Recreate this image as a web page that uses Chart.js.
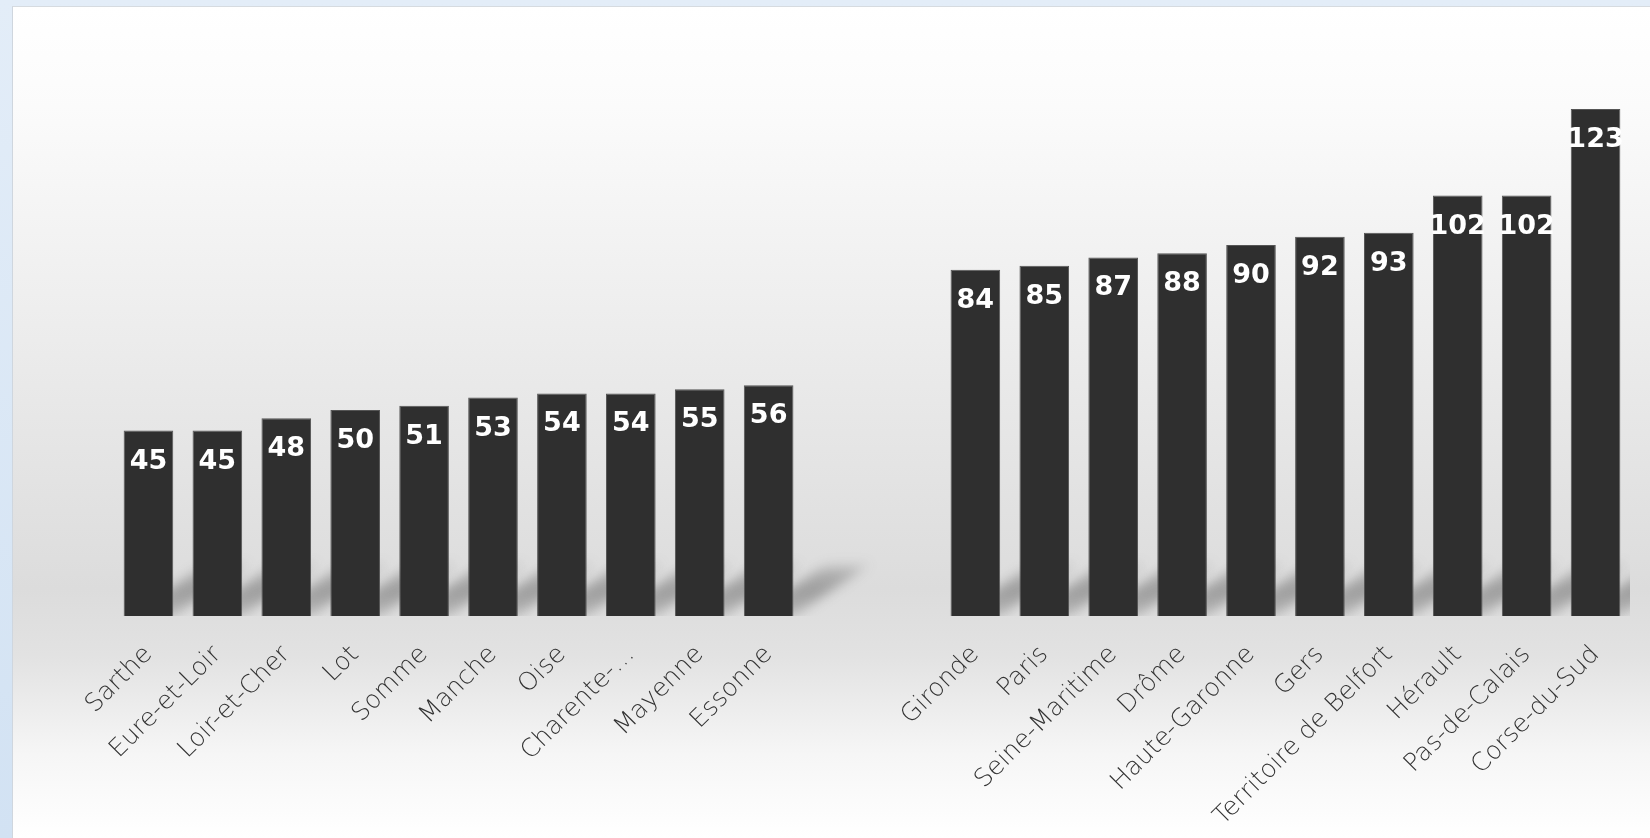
<!DOCTYPE html>
<html>
<head>
<meta charset="utf-8">
<script src="https://cdn.jsdelivr.net/npm/chart.js@4.4.1/dist/chart.umd.min.js"></script>
<style>
  html, body { margin: 0; padding: 0; }
  body {
    width: 1650px; height: 838px; overflow: hidden; position: relative;
    background: linear-gradient(180deg, #e3edf8 0%, #d2e2f3 100%);
  }
  #panel {
    position: absolute; left: 12px; top: 6px; right: 0; bottom: 0;
    border-left: 1px solid #cfd6de; border-top: 1px solid #d6dbe0;
    background: linear-gradient(180deg, #ffffff 0%, #fbfbfb 12%, #ececec 40%, #dcdcdc 70%, #e2e2e2 78%, #f6f6f6 90%, #ffffff 100%);
  }
  #chart { position: absolute; left: 0; top: 0; }
</style>
</head>
<body>
<div id="panel"></div>
<canvas id="chart" width="1650" height="838"></canvas>
<script>
// départements, deux groupes séparés par deux emplacements vides
const departements = [
    "Sarthe", "Eure-et-Loir", "Loir-et-Cher", "Lot", "Somme", "Manche", "Oise", "Charente-…", "Mayenne", "Essonne",
    "", "",
    "Gironde", "Paris", "Seine-Maritime", "Drôme", "Haute-Garonne", "Gers", "Territoire de Belfort", "Hérault", "Pas-de-Calais", "Corse-du-Sud"
];
const valeurs = [
    45, 45, 48, 50, 51, 53, 54, 54, 55, 56,
    null, null,
    84, 85, 87, 88, 90, 92, 93, 102, 102, 123
];
const yMax = 140;

// ombre oblique derrière chaque barre
const ombres = {
    id: "ombres",
    beforeDatasetsDraw(chart) {
        const ctx = chart.ctx;
        const area = chart.chartArea;
        const meta = chart.getDatasetMeta(0);
        ctx.save();
        ctx.beginPath();
        ctx.rect(area.left, area.top, area.right - area.left, area.bottom - area.top);
        ctx.clip();
        ctx.filter = "blur(6px)";
        meta.data.forEach((bar, i) => {
            if (valeurs[i] == null) return;
            const w = bar.width;
            const xl = bar.x - w / 2, xr = bar.x + w / 2, b = bar.base;
            const dx = 80, dy = 54;
            const g = ctx.createLinearGradient(0, b, 0, b - dy);
            g.addColorStop(0, "rgba(70,70,70,0.25)");
            g.addColorStop(0.45, "rgba(70,70,70,0.42)");
            g.addColorStop(0.8, "rgba(70,70,70,0.3)");
            g.addColorStop(1, "rgba(70,70,70,0)");
            ctx.fillStyle = g;
            ctx.beginPath();
            ctx.moveTo(xl + 6, b);
            ctx.lineTo(xr, b);
            ctx.lineTo(xr + dx, b - dy);
            ctx.lineTo(xl + dx + 6, b - dy);
            ctx.closePath();
            ctx.fill();
        });
        ctx.restore();
    }
};

// étiquettes de valeur dans le haut des barres
const etiquettes = {
    id: "etiquettes",
    afterDatasetsDraw(chart) {
        const ctx = chart.ctx;
        const meta = chart.getDatasetMeta(0);
        ctx.save();
        ctx.fillStyle = "#ffffff";
        ctx.font = "bold 27px 'DejaVu Sans'";
        ctx.textAlign = "center";
        ctx.textBaseline = "middle";
        meta.data.forEach((bar, i) => {
            if (valeurs[i] == null) return;
            ctx.fillText(String(valeurs[i]), bar.x, bar.y + 31);
        });
        ctx.restore();
    }
};

new Chart(document.getElementById("chart"), {
    type: "bar",
    data: {
        labels: departements,
        datasets: [{
            data: valeurs,
            backgroundColor: "#2f2f2f",
            borderColor: "#555555",
            borderWidth: 1,
            barPercentage: 0.72,
            categoryPercentage: 1
        }]
    },
    options: {
        responsive: false,
        animation: false,
        layout: { padding: { left: 114, right: 20, top: 39, bottom: 0 } },
        plugins: { legend: { display: false }, tooltip: { enabled: false } },
        scales: {
            x: {
                grid: { display: false, drawTicks: false },
                border: { display: false },
                ticks: {
                    autoSkip: false,
                    minRotation: 45,
                    maxRotation: 45,
                    padding: 24,
                    color: "#333333",
                    font: { family: "'DejaVu Sans'", size: 25, weight: 200 }
                },
                afterFit: s => { s.height = 222; }
            },
            y: {
                display: false,
                min: 0,
                max: yMax
            }
        }
    },
    plugins: [ombres, etiquettes]
});
</script>
</body>
</html>
